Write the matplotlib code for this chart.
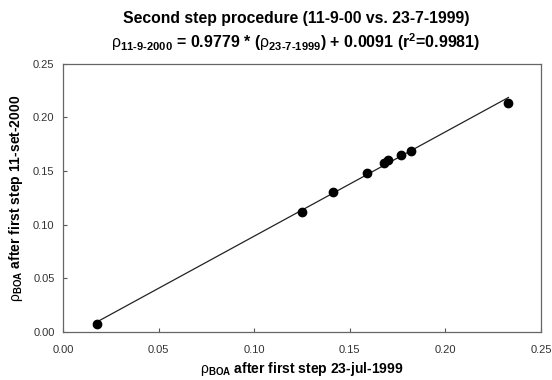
import numpy as np
import matplotlib
matplotlib.use("Agg")
import matplotlib.pyplot as plt

plt.rcParams['font.family'] = ['Liberation Sans', 'DejaVu Sans']
plt.rcParams['mathtext.fontset'] = 'custom'
plt.rcParams['mathtext.rm'] = 'Liberation Sans'
plt.rcParams['mathtext.bf'] = 'Liberation Sans:bold'
plt.rcParams['mathtext.it'] = 'Liberation Sans:italic'

# Data
x_jul1999 = [0.0178, 0.125, 0.141, 0.159, 0.168, 0.170, 0.177, 0.182, 0.233]
y_sep2000 = [0.0075, 0.112, 0.131, 0.148, 0.158, 0.160, 0.165, 0.169, 0.2136]
xticks = [0.00, 0.05, 0.10, 0.15, 0.20, 0.25]
yticks = [0.00, 0.05, 0.10, 0.15, 0.20, 0.25]

x = np.array(x_jul1999)
y = np.array(y_sep2000)
slope, intercept = np.polyfit(x, y, 1)
xl = np.array([x.min(), x.max()])

fig = plt.figure(figsize=(5.52, 3.80), dpi=100)
ax = fig.add_axes([0.114, 0.126, 0.866, 0.706])

ax.plot(xl, slope * xl + intercept, color='#222222', lw=0.9, zorder=2)
ax.plot(x, y, 'o', color='black', ms=6, zorder=3)

ax.set_xlim(0, 0.25)
ax.set_ylim(0, 0.25)
ax.set_xticks(xticks)
ax.set_yticks(yticks)
ax.set_xticklabels([f"{v:.2f}" for v in xticks])
ax.set_yticklabels([f"{v:.2f}" for v in yticks])
ax.tick_params(direction='in', length=3, width=0.8, colors='#555555',
               labelsize=8, labelcolor='#333333')
ax.tick_params(axis='x', pad=9)
ax.tick_params(axis='y', pad=6)
for s in ax.spines.values():
    s.set_color('#666666')
    s.set_linewidth(0.9)

ax.set_xlabel(r'$\mathrm{ρ}_{\mathbf{BOA}}$ after first step 23-jul-1999',
              fontsize=10, fontweight='bold', labelpad=4)
ax.set_ylabel(r'$\mathrm{ρ}_{\mathbf{BOA}}$ after first step 11-set-2000',
              fontsize=10, fontweight='bold', labelpad=6)

fig.text(0.536, 0.952, 'Second step procedure (11-9-00 vs. 23-7-1999)',
         ha='center', va='center', fontsize=11.3, fontweight='bold')
fig.text(0.536, 0.888,
         r'$\mathrm{ρ}_{\mathbf{11‐9‐2000}}$ = 0.9779 * ($\mathrm{ρ}_{\mathbf{23‐7‐1999}}$) + 0.0091 (r$^{\mathbf{2}}$=0.9981)',
         ha='center', va='center', fontsize=11.5, fontweight='bold')

fig.savefig('out.png', dpi=100)
